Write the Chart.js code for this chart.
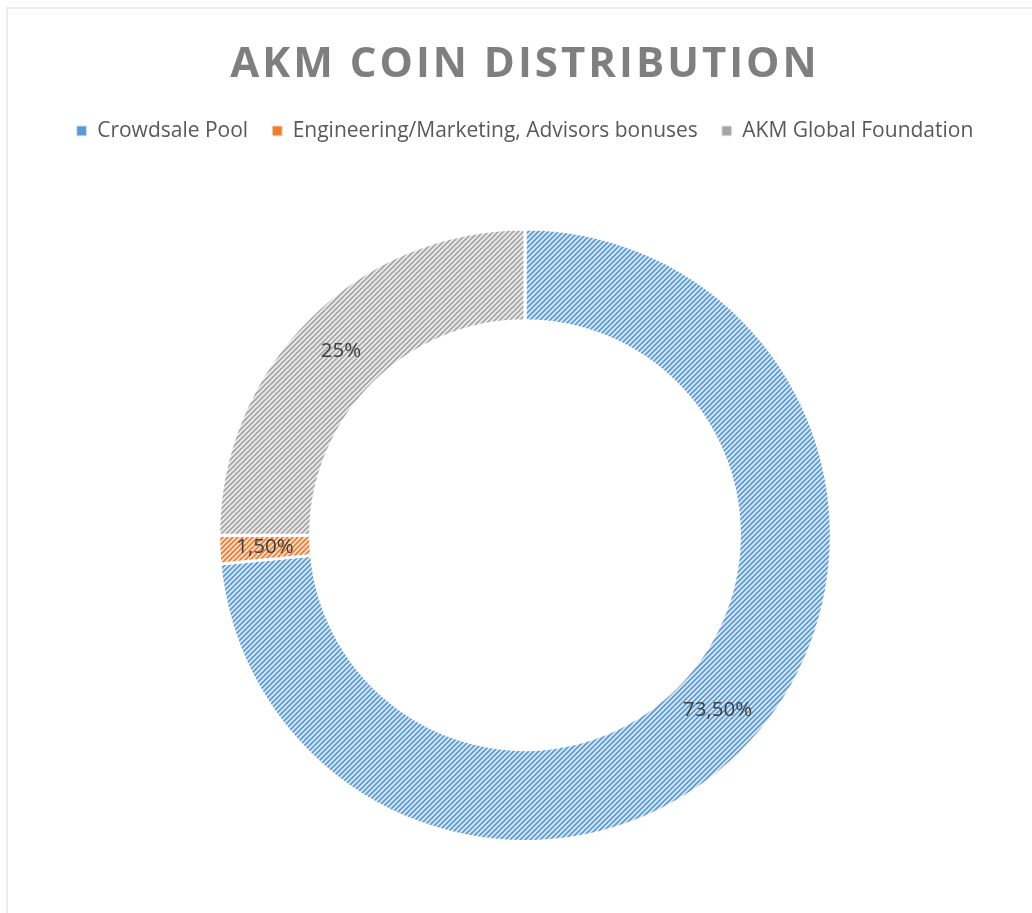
<!DOCTYPE html>
<html>
<head>
<meta charset="utf-8">
<script src="https://cdn.jsdelivr.net/npm/chart.js@4.4.1/dist/chart.umd.min.js"></script>
<style>
  html, body { margin: 0; padding: 0; background: #fff; }
  #wrap { position: relative; width: 1032px; height: 913px; overflow: hidden; }
  #frame { position: absolute; left: 6px; top: 7px; right: -4px; bottom: -4px;
           border-top: 2px solid #ececec; border-left: 2px solid #ececec; }
  canvas { position: absolute; left: 0; top: 0; }
</style>
</head>
<body>
<div id="wrap">
  <div id="frame"></div>
  <canvas id="chart" width="1032" height="913"></canvas>
</div>
<script>
const labels = ['Crowdsale Pool', 'Engineering/Marketing, Advisors bonuses', 'AKM Global Foundation'];
const shares = [73.5, 1.5, 25];
const valueLabels = ['73,50%', '1,50%', '25%'];
const stripeColors = ['#5b9bd5', '#ed7d31', '#a5a5a5'];
const fillColors = ['#dbe8f6', '#fbe2d1', '#ececec'];

// diagonal hatch like Excel's "wide upward diagonal"
function hatch(bg, fg) {
    const c = document.createElement('canvas');
    c.width = c.height = 5;
    const x = c.getContext('2d');
    x.fillStyle = bg;
    x.fillRect(0, 0, 5, 5);
    x.strokeStyle = fg;
    x.lineWidth = 1.7;
    x.beginPath();
    x.moveTo(-1, 6); x.lineTo(6, -1);
    x.moveTo(-1, 1); x.lineTo(1, -1);
    x.moveTo(4, 6); x.lineTo(6, 4);
    x.stroke();
    return x.createPattern(c, 'repeat');
}
const patterns = fillColors.map((bg, i) => hatch(bg, stripeColors[i]));

// title letter spacing + space under the legend
const tweaks = {
    id: 'tweaks',
    beforeInit(chart) {
        const legend = chart.legend;
        const fit = legend.fit;
        legend.fit = function () {
            fit.call(this);
            this.height += 76;
        };
    },
    afterInit(chart) {
        const t = chart.titleBlock;
        const draw = t.draw;
        t.draw = function () {
            chart.ctx.save();
            chart.ctx.letterSpacing = '3px';
            draw.call(this);
            chart.ctx.restore();
        };
    }
};

const sliceLabels = {
    id: 'sliceLabels',
    afterDatasetsDraw(chart) {
        const ctx = chart.ctx;
        ctx.save();
        ctx.font = '20.5px "Open Sans"';
        ctx.fillStyle = '#404040';
        ctx.textAlign = 'center';
        ctx.textBaseline = 'middle';
        chart.getDatasetMeta(0).data.forEach((arc, i) => {
            const p = arc.tooltipPosition();
            ctx.fillText(valueLabels[i], p.x, p.y);
        });
        ctx.restore();
    }
};

new Chart(document.getElementById('chart'), {
    type: 'doughnut',
    data: {
        labels: labels,
        datasets: [{
            data: shares,
            backgroundColor: patterns,
            borderColor: '#ffffff',
            borderWidth: 3,
            hoverOffset: 0
        }]
    },
    options: {
        responsive: false,
        animation: false,
        cutout: '70%',
        layout: { padding: { left: 18, right: 0, top: 0, bottom: 70 } },
        plugins: {
            title: {
                display: true,
                text: 'AKM COIN DISTRIBUTION',
                color: '#7f7f7f',
                font: { family: '"Open Sans"', size: 42, weight: 'bold' },
                padding: { top: 40, bottom: 6 }
            },
            legend: {
                position: 'top',
                labels: {
                    color: '#595959',
                    font: { family: '"Open Sans"', size: 21 },
                    boxWidth: 10,
                    boxHeight: 10,
                    padding: 24,
                    generateLabels(chart) {
                        return labels.map((text, i) => ({
                            text: text,
                            fillStyle: stripeColors[i],
                            strokeStyle: fillColors[i],
                            lineWidth: 1,
                            fontColor: '#595959',
                            hidden: false,
                            index: i
                        }));
                    }
                }
            },
            tooltip: { enabled: false }
        }
    },
    plugins: [tweaks, sliceLabels]
});
</script>
</body>
</html>
